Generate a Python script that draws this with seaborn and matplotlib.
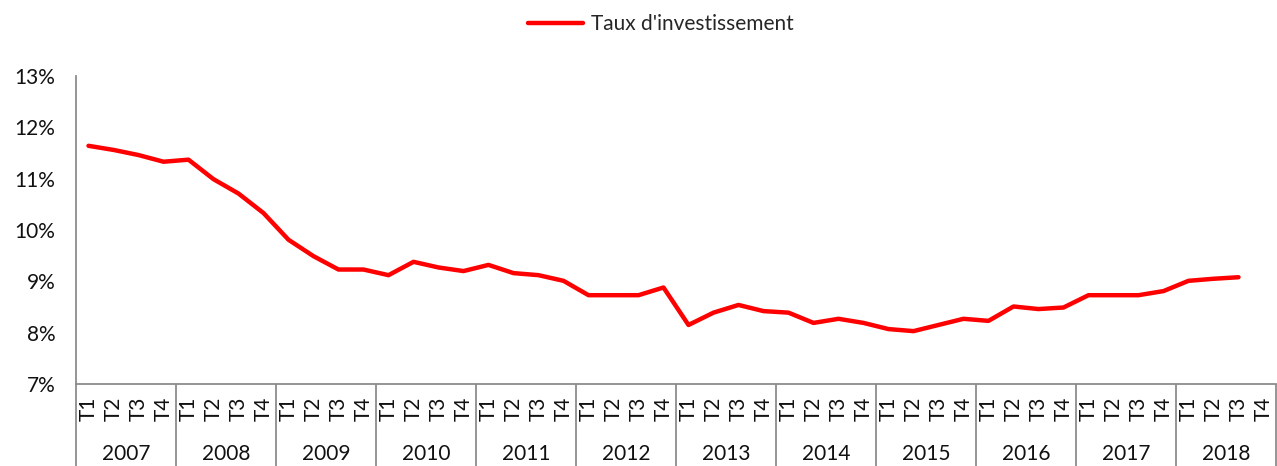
import numpy as np
import pandas as pd
import matplotlib
matplotlib.use("Agg")
import matplotlib.pyplot as plt
import seaborn as sns

# Data: quarterly investment rate (%), 2007 T1 .. 2018 T3
years = [str(y) for y in range(2007, 2019)]
quarters = ["T1", "T2", "T3", "T4"]
taux = [
    11.64, 11.56, 11.46, 11.33,   # 2007
    11.37, 10.99, 10.71, 10.33,   # 2008
    9.81, 9.49, 9.23, 9.23,       # 2009
    9.12, 9.38, 9.27, 9.20,       # 2010
    9.32, 9.16, 9.12, 9.01,       # 2011
    8.73, 8.73, 8.73, 8.88,       # 2012
    8.15, 8.39, 8.54, 8.42,       # 2013
    8.39, 8.19, 8.27, 8.19,       # 2014
    8.07, 8.03, 8.15, 8.27,       # 2015
    8.23, 8.51, 8.46, 8.49,       # 2016
    8.73, 8.73, 8.73, 8.81,       # 2017
    9.01, 9.05, 9.08,             # 2018
]
series_name = "Taux d'investissement"

n_slots = len(years) * len(quarters)
df = pd.DataFrame({"pos": np.arange(len(taux)) + 0.5, "taux": taux})

sns.set_style("white")
plt.rcParams["font.family"] = ["Lato", "DejaVu Sans"]
grey = "#8c8c8c"
txt = "#111111"

fig = plt.figure(figsize=(12.77, 4.66), dpi=100)
ax = fig.add_axes([76 / 1277, 82 / 466, 1200 / 1277, 308 / 466])

sns.lineplot(data=df, x="pos", y="taux", color="#ff0000", linewidth=3.2,
             label=series_name, ax=ax, legend=False)

ax.set_xlim(0, n_slots)
ax.set_ylim(7, 13)
ax.set_xlabel("")
ax.set_ylabel("")

# y axis
ax.set_yticks(range(7, 14))
ax.set_yticklabels([f"{v}%" for v in range(7, 14)], fontsize=15, color=txt)
ax.tick_params(axis="y", length=6, width=1.3, color=grey, pad=9)

# x axis: quarter labels at centres, separators at boundaries
ax.set_xticks(np.arange(n_slots) + 0.5)
ax.set_xticklabels(quarters * len(years), rotation=90, fontsize=15, color=txt)
ax.tick_params(axis="x", which="major", length=0, pad=9)
ax.set_xticks(np.arange(n_slots + 1), minor=True)
ax.tick_params(axis="x", which="minor", length=32, width=1.3, color=grey)

# year separators and labels
trans = ax.get_xaxis_transform()
ax.vlines(np.arange(0, n_slots + 1, 4), -0.27, 0, transform=trans,
          colors=grey, linewidth=1.3, clip_on=False)
for i, yr in enumerate(years):
    ax.text(i * 4 + 2, -0.228, yr, transform=trans, ha="center", va="center",
            fontsize=15, color=txt)

for side in ["top", "right"]:
    ax.spines[side].set_visible(False)
for side in ["left", "bottom"]:
    ax.spines[side].set_color(grey)
    ax.spines[side].set_linewidth(1.3)

handles, labels = ax.get_legend_handles_labels()
fig.legend(handles, labels, loc="center", bbox_to_anchor=(661 / 1277, 1 - 24 / 466),
           frameon=False, fontsize=15, handlelength=2.6, handletextpad=0.4)

fig.savefig("out.png", dpi=100)
